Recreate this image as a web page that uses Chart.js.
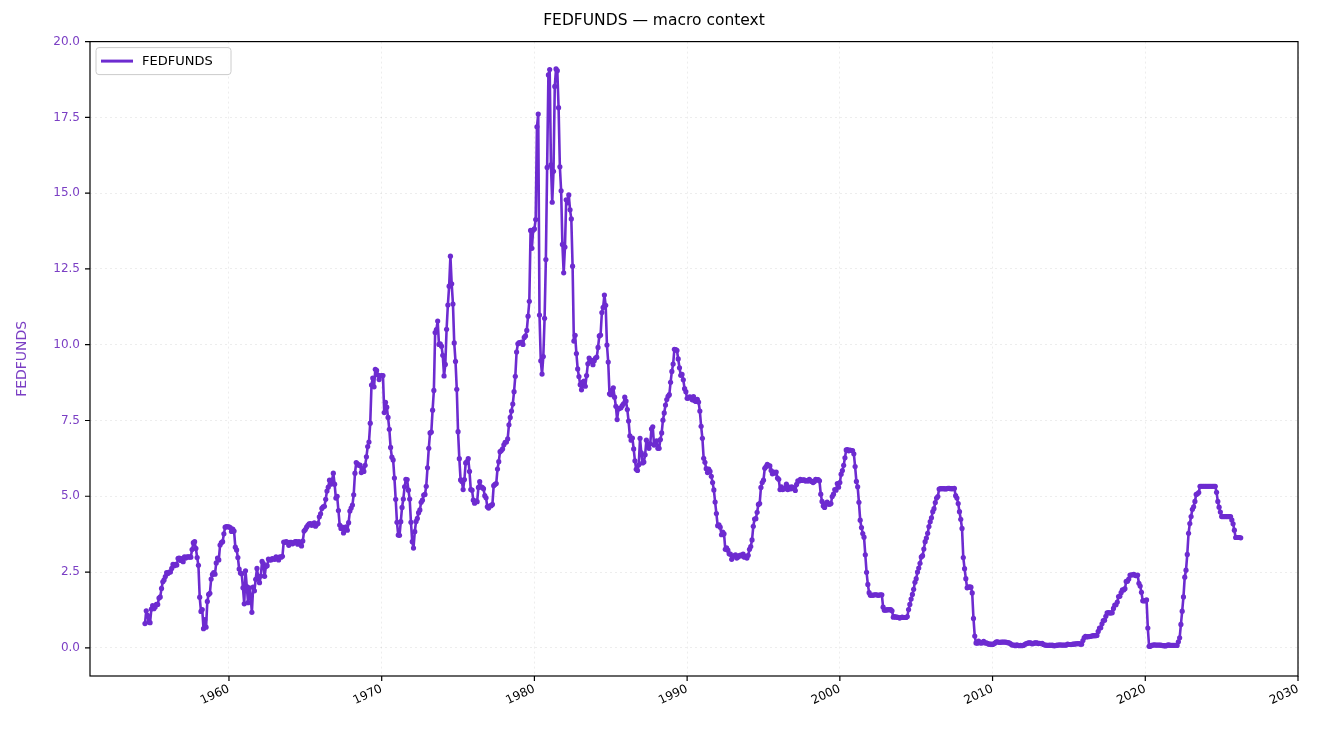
<!DOCTYPE html>
<html><head><meta charset="utf-8">
<script src="https://cdn.jsdelivr.net/npm/chart.js@4"></script>
<style>html,body{margin:0;padding:0;background:#fff}#w{width:1334px;height:735px}</style>
</head><body><div id="w"><canvas id="c"></canvas></div>
<script>
const startYear = 1954, startMonth = 7;
const fedfunds = [
0.80,1.22,1.07,0.85,0.83,1.28,
1.39,1.29,1.35,1.43,1.43,1.64,1.68,1.96,2.18,2.24,2.35,2.48,
2.45,2.50,2.50,2.62,2.75,2.71,2.75,2.73,2.95,2.96,2.88,2.94,
2.84,3.00,2.96,3.00,3.00,3.00,2.99,3.24,3.47,3.50,3.28,2.98,
2.72,1.67,1.20,1.26,0.63,0.93,0.68,1.53,1.76,1.80,2.27,2.42,
2.48,2.43,2.80,2.96,2.90,3.39,3.47,3.50,3.76,3.98,4.00,3.99,
3.99,3.97,3.84,3.92,3.85,3.32,3.23,2.98,2.60,2.47,2.44,1.98,
1.45,2.54,2.02,1.49,1.98,1.73,1.17,2.00,1.88,2.26,2.62,2.33,
2.15,2.37,2.85,2.78,2.36,2.68,2.71,2.93,2.90,2.90,2.94,2.93,
2.92,3.00,2.98,2.90,3.00,2.99,3.02,3.49,3.48,3.50,3.48,3.38,
3.48,3.48,3.43,3.47,3.50,3.50,3.42,3.50,3.45,3.36,3.52,3.85,
3.90,3.98,4.04,4.09,4.10,4.04,4.09,4.12,4.01,4.08,4.10,4.32,
4.42,4.60,4.65,4.67,4.90,5.17,5.30,5.53,5.40,5.53,5.76,5.40,
4.94,5.00,4.53,4.05,3.94,3.98,3.79,3.90,3.99,3.88,4.13,4.51,
4.61,4.71,5.05,5.76,6.11,6.07,6.02,6.03,5.78,5.91,5.82,6.02,
6.30,6.64,6.79,7.41,8.67,8.90,8.61,9.19,9.15,9.00,8.85,8.97,
8.98,8.98,7.76,8.10,7.94,7.60,7.21,6.61,6.29,6.20,5.60,4.90,
4.14,3.72,3.71,4.16,4.63,4.91,5.31,5.56,5.55,5.20,4.91,4.14,
3.50,3.29,3.83,4.17,4.27,4.46,4.55,4.80,4.87,5.04,5.06,5.33,
5.94,6.58,7.09,7.12,7.84,8.49,10.40,10.50,10.78,10.01,10.03,9.95,
9.65,8.97,9.35,10.51,11.31,11.93,12.92,12.01,11.34,10.06,9.45,8.53,
7.13,6.24,5.54,5.49,5.22,5.55,6.10,6.14,6.24,5.82,5.22,5.20,
4.87,4.77,4.84,4.82,5.29,5.48,5.31,5.29,5.25,5.02,4.95,4.65,
4.61,4.68,4.69,4.73,5.35,5.39,5.42,5.90,6.14,6.47,6.51,6.56,
6.70,6.78,6.79,6.89,7.36,7.60,7.81,8.04,8.45,8.96,9.76,10.03,
10.07,10.06,10.09,10.01,10.24,10.29,10.47,10.94,11.43,13.77,13.18,13.78,
13.82,14.13,17.19,17.61,10.98,9.47,9.03,9.61,10.87,12.81,15.85,18.90,
19.08,15.93,14.70,15.72,18.52,19.10,19.04,17.82,15.87,15.08,13.31,12.37,
13.22,14.78,14.68,14.94,14.45,14.15,12.59,10.12,10.31,9.71,9.20,8.95,
8.68,8.51,8.77,8.80,8.63,8.98,9.37,9.56,9.45,9.48,9.34,9.47,
9.56,9.59,9.91,10.29,10.32,11.06,11.23,11.64,11.30,9.99,9.43,8.38,
8.35,8.50,8.58,8.27,7.97,7.53,7.88,7.90,7.92,7.99,8.05,8.27,
8.14,7.86,7.48,6.99,6.85,6.92,6.56,6.17,5.89,5.85,6.04,6.91,
6.43,6.10,6.13,6.37,6.85,6.73,6.58,6.73,7.22,7.29,6.69,6.77,
6.83,6.58,6.58,6.87,7.09,7.51,7.75,8.01,8.19,8.30,8.35,8.76,
9.12,9.36,9.85,9.84,9.81,9.53,9.24,8.99,9.02,8.84,8.55,8.45,
8.23,8.24,8.28,8.26,8.18,8.29,8.15,8.13,8.20,8.11,7.81,7.31,
6.91,6.25,6.12,5.91,5.78,5.90,5.82,5.66,5.45,5.21,4.81,4.43,
4.03,4.06,3.98,3.73,3.82,3.76,3.25,3.30,3.22,3.10,3.09,2.92,
3.02,3.03,3.07,2.96,3.00,3.04,3.06,3.03,3.09,2.99,3.02,2.96,
3.05,3.25,3.34,3.56,4.01,4.25,4.26,4.47,4.73,4.76,5.29,5.45,
5.53,5.92,5.98,6.05,6.01,6.00,5.85,5.74,5.80,5.76,5.80,5.60,
5.56,5.22,5.31,5.22,5.24,5.27,5.40,5.22,5.30,5.24,5.31,5.29,
5.25,5.19,5.39,5.51,5.50,5.56,5.52,5.54,5.54,5.50,5.52,5.50,
5.56,5.51,5.49,5.45,5.49,5.56,5.54,5.55,5.51,5.07,4.83,4.68,
4.63,4.76,4.81,4.74,4.74,4.76,4.99,5.07,5.22,5.20,5.42,5.30,
5.45,5.73,5.85,6.02,6.27,6.53,6.54,6.50,6.52,6.51,6.51,6.40,
5.98,5.49,5.31,4.80,4.21,3.97,3.77,3.65,3.07,2.49,2.09,1.82,
1.73,1.74,1.73,1.75,1.75,1.75,1.73,1.74,1.75,1.75,1.34,1.24,
1.24,1.26,1.25,1.26,1.26,1.22,1.01,1.03,1.01,1.01,1.00,0.98,
1.00,1.01,1.00,1.00,1.00,1.03,1.26,1.43,1.61,1.76,1.93,2.16,
2.28,2.50,2.63,2.79,3.00,3.04,3.26,3.50,3.62,3.78,4.00,4.16,
4.29,4.49,4.59,4.79,4.94,4.99,5.24,5.25,5.25,5.25,5.25,5.24,
5.25,5.26,5.26,5.25,5.25,5.25,5.26,5.02,4.94,4.76,4.49,4.24,
3.94,2.98,2.61,2.28,1.98,2.00,2.01,2.00,1.81,0.97,0.39,0.16,
0.15,0.22,0.18,0.15,0.18,0.21,0.16,0.16,0.15,0.12,0.12,0.12,
0.11,0.13,0.16,0.20,0.20,0.18,0.18,0.19,0.19,0.19,0.19,0.18,
0.17,0.16,0.14,0.10,0.09,0.09,0.07,0.10,0.08,0.07,0.08,0.07,
0.08,0.10,0.13,0.14,0.16,0.16,0.16,0.13,0.14,0.16,0.16,0.16,
0.14,0.15,0.14,0.15,0.11,0.09,0.09,0.08,0.08,0.09,0.08,0.09,
0.07,0.07,0.08,0.09,0.09,0.10,0.09,0.09,0.09,0.09,0.09,0.12,
0.11,0.11,0.11,0.12,0.12,0.13,0.13,0.14,0.14,0.12,0.12,0.24,
0.34,0.38,0.36,0.37,0.37,0.38,0.39,0.40,0.40,0.40,0.41,0.54,
0.65,0.66,0.79,0.90,0.91,1.04,1.15,1.16,1.15,1.15,1.16,1.30,
1.41,1.42,1.51,1.69,1.70,1.82,1.91,1.91,1.95,2.19,2.20,2.27,
2.40,2.40,2.41,2.42,2.39,2.38,2.40,2.13,2.04,1.83,1.55,1.55,
1.55,1.58,0.65,0.05,0.05,0.08,0.09,0.10,0.09,0.09,0.09,0.09,
0.09,0.08,0.07,0.07,0.06,0.08,0.10,0.09,0.08,0.08,0.08,0.08,
0.08,0.08,0.20,0.33,0.77,1.21,1.68,2.33,2.56,3.08,3.78,4.10,
4.33,4.57,4.65,4.83,5.06,5.08,5.12,5.33,5.33,5.33,5.33,5.33,
5.33,5.33,5.33,5.33,5.33,5.33,5.33,5.33,5.13,4.83,4.64,4.48,
4.33,4.33,4.33,4.33,4.33,4.33,4.33,4.33,4.22,4.09,3.88,3.64,
3.64,3.64,3.64,3.63
];
const yTicks = [0,2.5,5,7.5,10,12.5,15,17.5,20];
const xTicks = [1960,1970,1980,1990,2000,2010,2020,2030];
const COLOR = '#6d2bd0';
const pts = fedfunds.map((v,i)=>({x: startYear + (startMonth-1+i)/12, y: v}));

const frame = {
  id:'frame',
  afterDraw(ch){
    const c=ch.ctx, a=ch.chartArea;
    c.save(); c.strokeStyle='#000'; c.lineWidth=1.2;
    c.strokeRect(a.left,a.top,a.right-a.left,a.bottom-a.top);
    c.beginPath();
    const xs=ch.scales.x, ys=ch.scales.y;
    xTicks.forEach(t=>{const p=xs.getPixelForValue(t); c.moveTo(p,a.bottom); c.lineTo(p,a.bottom+5);});
    yTicks.forEach(t=>{const p=ys.getPixelForValue(t); c.moveTo(a.left,p); c.lineTo(a.left-5,p);});
    c.stroke();
    const lx=a.left+6, ly=a.top+6;
    c.fillStyle='rgba(255,255,255,0.85)'; c.strokeStyle='#ccc'; c.lineWidth=1;
    c.beginPath(); c.roundRect(lx,ly,135,27,3); c.fill(); c.stroke();
    c.strokeStyle=COLOR; c.lineWidth=3; c.beginPath(); c.moveTo(lx+5,ly+13.5); c.lineTo(lx+37,ly+13.5); c.stroke();
    c.fillStyle='#000'; c.font='13px "DejaVu Sans"'; c.textBaseline='middle';
    c.fillText('FEDFUNDS',lx+46,ly+14);
    c.restore();
  }
};

new Chart(document.getElementById('c'),{
  type:'line',
  data:{datasets:[{label:'FEDFUNDS',data:pts,borderColor:COLOR,backgroundColor:COLOR,borderWidth:2.6,borderJoinStyle:'round',pointRadius:2.6,pointBorderWidth:0,pointBackgroundColor:COLOR,tension:0}]},
  options:{
    responsive:true,maintainAspectRatio:false,animation:false,
    layout:{padding:{left:10,right:36,top:0,bottom:0}},
    plugins:{legend:{display:false},tooltip:{enabled:false},
      title:{display:true,text:'FEDFUNDS — macro context',color:'#000',font:{family:'DejaVu Sans',size:15.5,weight:'normal'},padding:{top:12,bottom:11}}},
    scales:{
      x:{type:'linear',min:1950.9,max:2030,
        afterFit:s=>{s.height=59;},
        afterBuildTicks:s=>{s.ticks=xTicks.map(v=>({value:v}));},
        ticks:{color:'#000',maxRotation:25,minRotation:25,font:{family:'DejaVu Sans',size:12},padding:6,callback:v=>String(v)},
        grid:{color:'rgba(0,0,0,0.07)',drawTicks:false},border:{display:false,dash:[2,3]}},
      y:{min:-0.93,max:20,
        afterFit:s=>{s.width=80;},
        afterBuildTicks:s=>{s.ticks=yTicks.map(v=>({value:v}));},
        ticks:{color:'#7b3fc4',font:{family:'DejaVu Sans',size:12},padding:10,callback:v=>v.toFixed(1)},
        title:{display:true,text:'FEDFUNDS',color:'#7b3fc4',font:{family:'DejaVu Sans',size:14},padding:{bottom:4}},
        grid:{color:'rgba(0,0,0,0.07)',drawTicks:false},border:{display:false,dash:[2,3]}}
    }
  },
  plugins:[frame]
});
</script></body></html>
